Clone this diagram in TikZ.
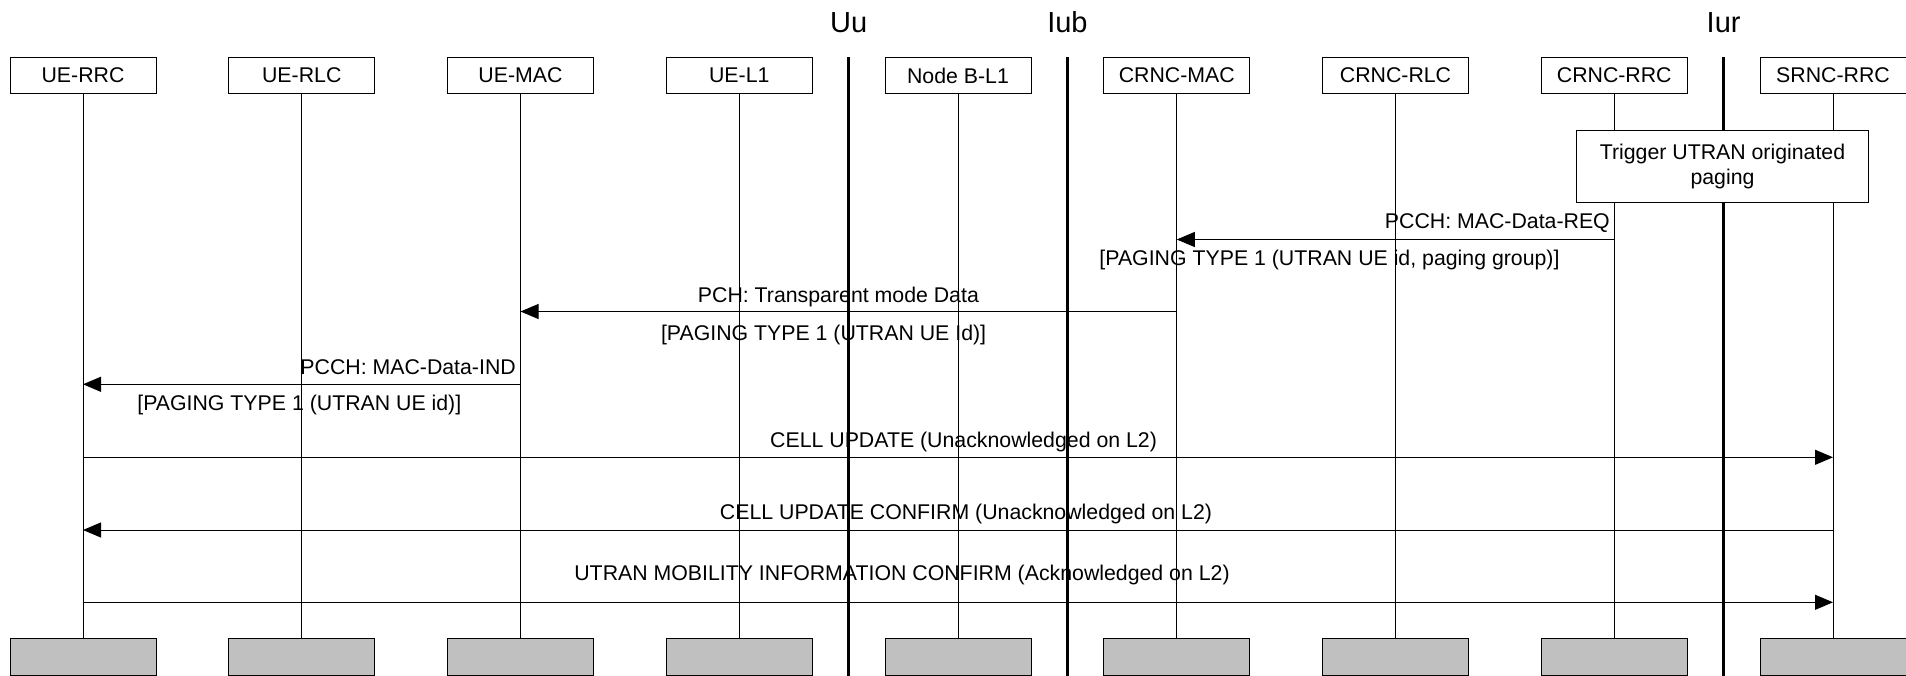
\documentclass[tikz,border=0pt]{standalone}
\usepackage{fontspec}
\setmainfont{Liberation Sans}
\usetikzlibrary{arrows.meta}
\definecolor{endgray}{HTML}{C0C0C0}
\begin{document}
\begin{tikzpicture}[x=1pt,y=-1pt,
  ent/.style={draw, line width=1pt, fill=white, minimum width=146pt, minimum height=36pt, inner sep=0pt, font=\fontsize{21.3}{25}\selectfont},
  endbox/.style={draw, line width=1pt, fill=endgray, minimum width=146pt, minimum height=37pt, inner sep=0pt},
  life/.style={line width=1pt},
  iface/.style={line width=2.4pt},
  ifl/.style={font=\fontsize{29}{30}\selectfont, inner sep=0pt, anchor=base},
  msg/.style={line width=1pt, -{Triangle[length=18pt,width=15pt]}},
  lbl/.style={font=\fontsize{21.3}{25}\selectfont, inner sep=0pt, anchor=base},
  trig/.style={draw, line width=1pt, fill=white, minimum width=291.6pt, minimum height=72.3pt, inner sep=0pt, align=center, font=\fontsize{21.3}{25}\selectfont},
]
\useasboundingbox (0,0) rectangle (1906,676);

% entities
\node[ent] (e1) at (83,75.5) {UE-RRC};
\node[ent] (e2) at (301.75,75.5) {UE-RLC};
\node[ent] (e3) at (520.5,75.5) {UE-MAC};
\node[ent] (e4) at (739.25,75.5) {UE-L1};
\node[ent] (e5) at (958,75.5) {Node B-L1};
\node[ent] (e6) at (1176.75,75.5) {CRNC-MAC};
\node[ent] (e7) at (1395.5,75.5) {CRNC-RLC};
\node[ent] (e8) at (1614.25,75.5) {CRNC-RRC};
\node[ent] (e9) at (1833,75.5) {SRNC-RRC};

% end boxes
\foreach \i/\x in {1/83,2/301.75,3/520.5,4/739.25,5/958,6/1176.75,7/1395.5,8/1614.25,9/1833}{
  \node[endbox] (b\i) at (\x,657) {};
}

% lifelines
\foreach \i in {1,...,9}{
  \draw[life] (e\i) -- (b\i);
}

% interfaces
\node[ifl] (uu) at (848.6,33) {Uu};
\node[ifl] (iub) at (1067.4,33) {Iub};
\node[ifl] (iur) at (1723.6,33) {Iur};
\coordinate (uuT) at (848.6,57.5);
\coordinate (uuB) at (848.6,676);
\coordinate (iubT) at (1067.4,57.5);
\coordinate (iubB) at (1067.4,676);
\coordinate (iurT) at (1723.6,57.5);
\coordinate (iurB) at (1723.6,676);
\draw[iface] (uuT) -- (uuB);
\draw[iface] (iubT) -- (iubB);
\draw[iface] (iurT) -- (iurB);

% trigger box
\node[trig] (trg) at (1722.5,166.2) {Trigger UTRAN originated\\paging};

% messages
\draw[msg] (e8 |- 0,239.5) -- (e6 |- 0,239.5);
\node[lbl, anchor=base east] (l2a) at (1610,228.2) {PCCH: MAC-Data-REQ};
\node[lbl] (l2b) at (1329.5,265.8) {[PAGING TYPE 1 (UTRAN UE id, paging group)]};

\draw[msg] (e6 |- 0,311.5) -- (e3 |- 0,311.5);
\node[lbl] (l3a) at (838.4,302.5) {PCH: Transparent mode Data};
\node[lbl] (l3b) at (823.6,340.8) {[PAGING TYPE 1 (UTRAN UE Id)]};

\draw[msg] (e3 |- 0,384.3) -- (e1 |- 0,384.3);
\node[lbl, anchor=base east] (l4a) at (516,374.2) {PCCH: MAC-Data-IND};
\node[lbl] (l4b) at (299.3,410.8) {[PAGING TYPE 1 (UTRAN UE id)]};

\draw[msg] (e1 |- 0,457.3) -- (e9 |- 0,457.3);
\node[lbl] (l5) at (963.6,447) {CELL UPDATE (Unacknowledged on L2)};

\draw[msg] (e9 |- 0,530) -- (e1 |- 0,530);
\node[lbl] (l6) at (966,519.2) {CELL UPDATE CONFIRM (Unacknowledged on L2)};

\draw[msg] (e1 |- 0,602.3) -- (e9 |- 0,602.3);
\node[lbl] (l7) at (902,580.3) {UTRAN MOBILITY INFORMATION CONFIRM (Acknowledged on L2)};
\end{tikzpicture}
\end{document}
